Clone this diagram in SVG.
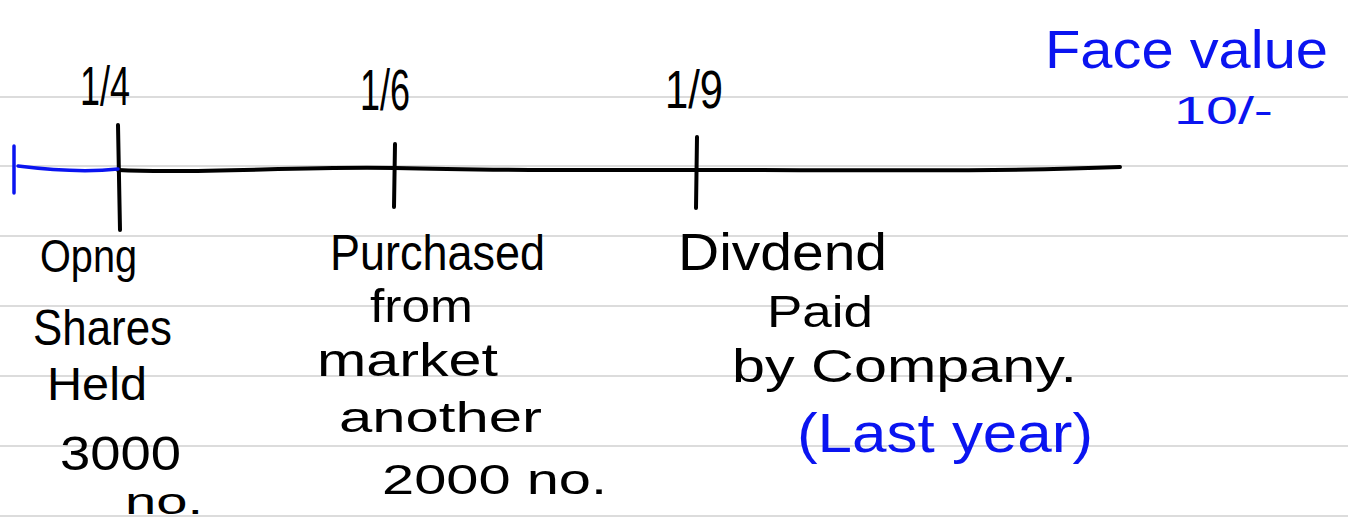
<svg xmlns="http://www.w3.org/2000/svg" width="1348" height="522" viewBox="0 0 1348 522">
<style>
.rule{stroke:#dcdcdc;stroke-width:2}
.ink{fill:#000;font-family:"Liberation Sans",Arial,sans-serif}
.blue{fill:#0a14f0;font-family:"Liberation Sans",Arial,sans-serif}
.pen{stroke:#000;stroke-width:4;stroke-linecap:round;fill:none}
.bpen{stroke:#0a14f0;stroke-width:3.5;stroke-linecap:round;fill:none}
</style>
<rect width="1348" height="522" fill="#fff"/>
<g id="ruled-lines">
<line class="rule" x1="0" y1="97" x2="1348" y2="97"/>
<line class="rule" x1="0" y1="166" x2="1348" y2="166"/>
<line class="rule" x1="0" y1="236" x2="1348" y2="236"/>
<line class="rule" x1="0" y1="306" x2="1348" y2="306"/>
<line class="rule" x1="0" y1="376" x2="1348" y2="376"/>
<line class="rule" x1="0" y1="446" x2="1348" y2="446"/>
<line class="rule" x1="0" y1="516" x2="1348" y2="516"/>
</g>
<g id="connectors">
<path class="pen" d="M118 170 C200 174 300 166 395 168 C500 171 600 170 696 170 C850 170 1000 172 1120 167"/>
<path class="pen" d="M118 125 L120 230"/>
<path class="pen" d="M395 144 L394 207"/>
<path class="pen" d="M697 137 L696 208"/>
<path class="bpen" d="M18 166 C50 170 90 172 118 169"/>
<path class="bpen" d="M14 146 L14 193"/>
</g>
<g id="date-1-4"><text class="ink" x="80" y="105" font-size="56" textLength="50" lengthAdjust="spacingAndGlyphs">1/4</text></g>
<g id="date-1-6"><text class="ink" x="360" y="110" font-size="58" textLength="50" lengthAdjust="spacingAndGlyphs">1/6</text></g>
<g id="date-1-9"><text class="ink" x="665" y="108" font-size="54" textLength="58" lengthAdjust="spacingAndGlyphs">1/9</text></g>
<g id="face-value">
<text class="blue" x="1045" y="68" font-size="54" textLength="283" lengthAdjust="spacingAndGlyphs">Face value</text>
<text class="blue" x="1174" y="124" font-size="38" textLength="99" lengthAdjust="spacingAndGlyphs">10/-</text>
</g>
<g id="opening">
<text class="ink" x="40" y="272" font-size="46" textLength="97" lengthAdjust="spacingAndGlyphs">Opng</text>
<text class="ink" x="33" y="345" font-size="50" textLength="139" lengthAdjust="spacingAndGlyphs">Shares</text>
<text class="ink" x="47" y="400" font-size="46" textLength="100" lengthAdjust="spacingAndGlyphs">Held</text>
<text class="ink" x="60" y="470" font-size="48" textLength="121" lengthAdjust="spacingAndGlyphs">3000</text>
<text class="ink" x="125" y="514" font-size="36" textLength="78" lengthAdjust="spacingAndGlyphs">no.</text>
</g>
<g id="purchased">
<text class="ink" x="330" y="270" font-size="50" textLength="215" lengthAdjust="spacingAndGlyphs">Purchased</text>
<text class="ink" x="370" y="322" font-size="46" textLength="103" lengthAdjust="spacingAndGlyphs">from</text>
<text class="ink" x="317" y="376" font-size="46" textLength="181" lengthAdjust="spacingAndGlyphs">market</text>
<text class="ink" x="339" y="432" font-size="42" textLength="203" lengthAdjust="spacingAndGlyphs">another</text>
<text class="ink" x="382" y="494" font-size="42" textLength="225" lengthAdjust="spacingAndGlyphs">2000 no.</text>
</g>
<g id="dividend">
<text class="ink" x="678" y="270" font-size="52" textLength="209" lengthAdjust="spacingAndGlyphs">Divdend</text>
<text class="ink" x="767" y="327" font-size="44" textLength="106" lengthAdjust="spacingAndGlyphs">Paid</text>
<text class="ink" x="732" y="382" font-size="46" textLength="345" lengthAdjust="spacingAndGlyphs">by Company.</text>
<text class="blue" x="797" y="452" font-size="56" textLength="296" lengthAdjust="spacingAndGlyphs">(Last year)</text>
</g>
</svg>
